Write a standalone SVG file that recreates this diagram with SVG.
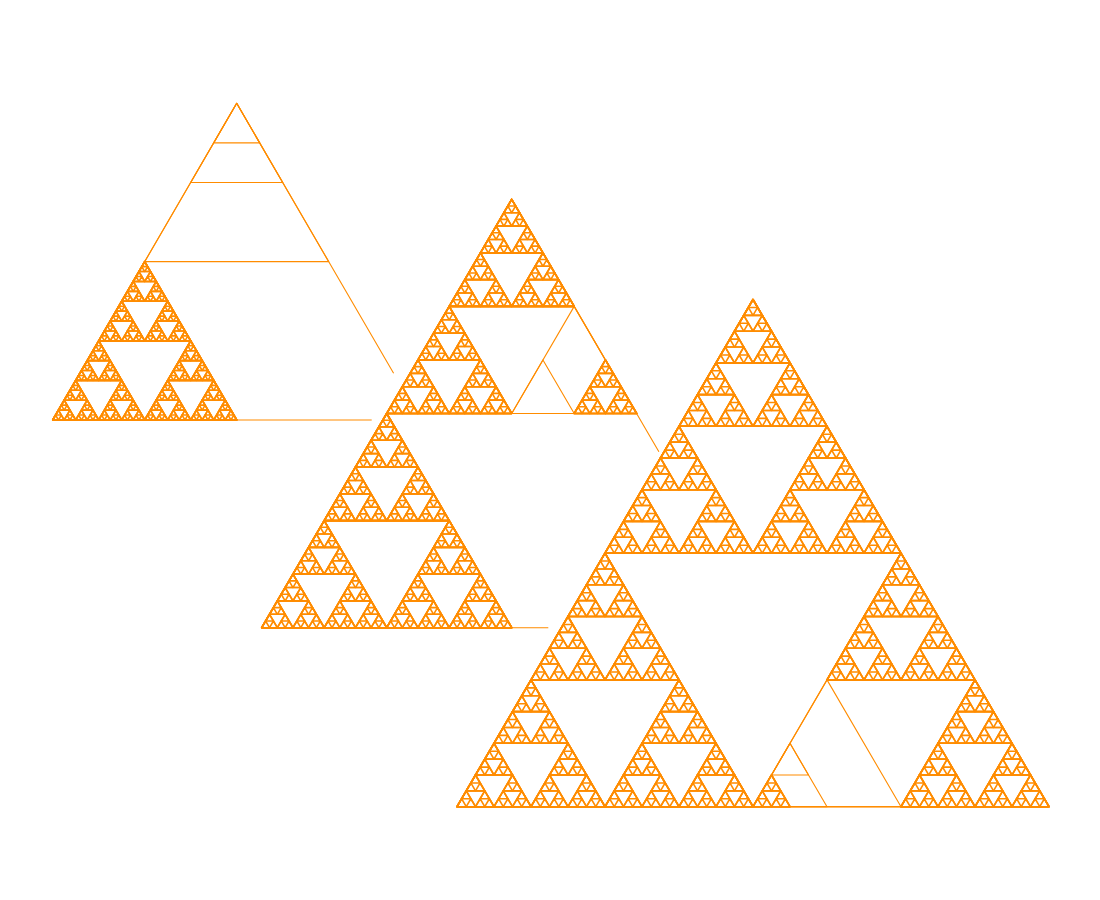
<svg xmlns="http://www.w3.org/2000/svg" width="1100" height="900" viewBox="0 0 1100 900">
<style>
.s{fill:none;stroke:#FF8C00;stroke-width:1.1;stroke-linejoin:round;stroke-linecap:butt}
.f{stroke-width:1.6}
</style>
<defs>
<path id="t0" d="M0,0L-1,1L1,1Z" vector-effect="non-scaling-stroke"/>
<g id="f1"><use href="#t0"/><use href="#t0" transform="scale(.5)"/><use href="#t0" transform="translate(-.5,.5) scale(.5)"/><use href="#t0" transform="translate(.5,.5) scale(.5)"/></g>
<g id="f2"><use href="#t0"/><use href="#f1" transform="scale(.5)"/><use href="#f1" transform="translate(-.5,.5) scale(.5)"/><use href="#f1" transform="translate(.5,.5) scale(.5)"/></g>
<g id="f3"><use href="#t0"/><use href="#f2" transform="scale(.5)"/><use href="#f2" transform="translate(-.5,.5) scale(.5)"/><use href="#f2" transform="translate(.5,.5) scale(.5)"/></g>
<g id="f4"><use href="#t0"/><use href="#f3" transform="scale(.5)"/><use href="#f3" transform="translate(-.5,.5) scale(.5)"/><use href="#f3" transform="translate(.5,.5) scale(.5)"/></g>
<g id="f5"><use href="#t0"/><use href="#f4" transform="scale(.5)"/><use href="#f4" transform="translate(-.5,.5) scale(.5)"/><use href="#f4" transform="translate(.5,.5) scale(.5)"/></g>
</defs>
<rect width="1100" height="900" fill="#ffffff"/>
<g class="s">
  <g id="triangle1">
    <g transform="translate(236.7,103.3) scale(184,316.7)">
      <use href="#t0" transform="scale(.5)"/>
      <use href="#t0" transform="scale(.25)"/>
      <use href="#t0" transform="scale(.125)"/>
      <use class="f" href="#f5" transform="translate(-.5,.5) scale(.5)"/>
    </g>
    <path d="M236.7,103.3L52.7,420M52.7,420H371.7M236.7,103.3L393.6,373.3"/>
  </g>
  <g id="triangle2">
    <g transform="translate(511.7,199.3) scale(250,428.4)">
      <use href="#t0" transform="scale(.5)"/>
      <use class="f" href="#f4" transform="scale(.25)"/>
      <use class="f" href="#f4" transform="translate(-.25,.25) scale(.25)"/>
      <use href="#t0" transform="translate(.25,.25) scale(.25)"/>
      <use href="#t0" transform="translate(.125,.375) scale(.125)"/>
      <use class="f" href="#f3" transform="translate(.375,.375) scale(.125)"/>
      <use class="f" href="#f5" transform="translate(-.5,.5) scale(.5)"/>
    </g>
    <path d="M511.7,199.3L261.7,627.7M261.7,627.7H548.3M511.7,199.3L658.9,451.7"/>
  </g>
  <g id="triangle3">
    <g transform="translate(753,299.5) scale(296,507.2)">
      <use href="#t0"/>
      <use class="f" href="#f5" transform="scale(.5)"/>
      <use class="f" href="#f5" transform="translate(-.5,.5) scale(.5)"/>
      <use href="#t0" transform="translate(.5,.5) scale(.5)"/>
      <use class="f" href="#f4" transform="translate(.5,.5) scale(.25)"/>
      <use class="f" href="#f4" transform="translate(.75,.75) scale(.25)"/>
      <use href="#t0" transform="translate(.25,.75) scale(.25)"/>
      <use href="#t0" transform="translate(.125,.875) scale(.125)"/>
      <use href="#t0" transform="translate(.125,.875) scale(.0625)"/>
      <use class="f" href="#f2" transform="translate(.0625,.9375) scale(.0625)"/>
    </g>
  </g>
</g>
</svg>
